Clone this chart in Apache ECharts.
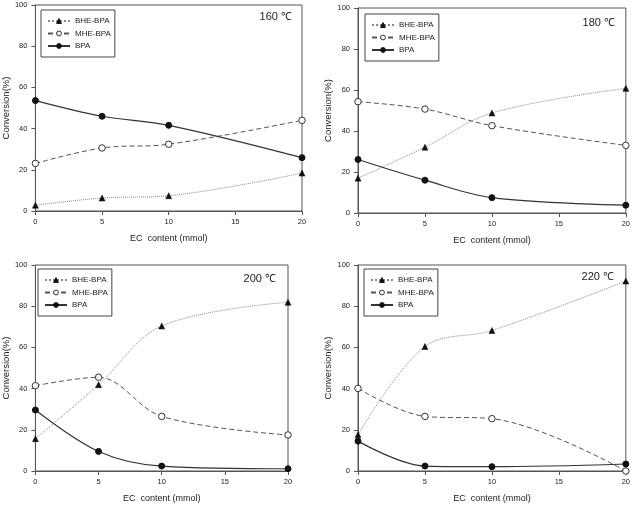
<!DOCTYPE html>
<html>
<head>
<meta charset="utf-8">
<script src="https://cdn.jsdelivr.net/npm/echarts@6/dist/echarts.min.js"></script>
<style>html,body{margin:0;padding:0;background:#fff}#c{width:633px;height:505px}</style>
</head>
<body>
<div id="c"></div>
<script>
const xVals = [0, 5, 10, 20];
const seriesNames = ['BHE-BPA', 'MHE-BPA', 'BPA'];
const panelLabels = ['160 ℃', '180 ℃', '200 ℃', '220 ℃'];
const xTitle = 'EC  content (mmol)';
const yTitle = 'Conversion(%)';

const bhe160 = [2.8, 6.3, 7.4, 18.4];
const mhe160 = [23.1, 30.6, 32.4, 44.0];
const bpa160 = [53.6, 46.0, 41.6, 25.9];

const bhe180 = [17.0, 32.1, 48.8, 60.8];
const mhe180 = [54.3, 50.7, 42.6, 33.0];
const bpa180 = [26.1, 16.0, 7.5, 3.8];

const bhe200 = [15.7, 41.9, 70.4, 81.9];
const mhe200 = [41.4, 45.5, 26.5, 17.5];
const bpa200 = [29.6, 9.5, 2.4, 1.1];

const bhe220 = [17.6, 60.4, 68.2, 92.2];
const mhe220 = [40.1, 26.5, 25.4, 0];
const bpa220 = [14.5, 2.4, 2.1, 3.4];

const panelData = [
  [bhe160, mhe160, bpa160],
  [bhe180, mhe180, bpa180],
  [bhe200, mhe200, bpa200],
  [bhe220, mhe220, bpa220]
];

// layout
const grids = [
  {left: 35, top: 5, width: 267, height: 206},
  {left: 358, top: 8, width: 268, height: 205},
  {left: 34, top: 265, width: 254, height: 206},
  {left: 358, top: 265, width: 269, height: 206}
];
const legendPos = [
  {left: 41, top: 10},
  {left: 365, top: 14},
  {left: 38, top: 269},
  {left: 364, top: 269}
];
const labelPos = [
  {right: 633 - 292, top: 11},
  {right: 633 - 615, top: 17},
  {right: 633 - 276, top: 273},
  {right: 633 - 614, top: 271}
];

const FONT = 'Liberation Sans, Arial, sans-serif';
const styles = [
  {symbol: 'triangle', symbolSize: 6, itemStyle: {color: '#111', borderColor: '#111', borderWidth: 0.5},
   lineStyle: {type: 'dotted', width: 1, color: '#8a8a8a'}},
  {symbol: 'circle', symbolSize: 6.5, itemStyle: {color: '#fff', borderColor: '#333', borderWidth: 1},
   lineStyle: {type: [5, 3], width: 1, color: '#555'}},
  {symbol: 'circle', symbolSize: 6, itemStyle: {color: '#111', borderColor: '#111', borderWidth: 1},
   lineStyle: {type: 'solid', width: 1.2, color: '#333'}}
];

const option = {
  animation: false,
  backgroundColor: '#fff',
  grid: grids.map(g => Object.assign({show: true, borderColor: '#555', borderWidth: 1, containLabel: false}, g)),
  xAxis: grids.map((g, i) => ({
    type: 'value', gridIndex: i, min: 0, max: 20, interval: 5,
    name: xTitle, nameLocation: 'middle', nameGap: 23,
    nameTextStyle: {fontFamily: FONT, fontSize: 9, color: '#222'},
    axisLine: {lineStyle: {color: '#555'}},
    axisTick: {show: true, length: 4, lineStyle: {color: '#555'}},
    axisLabel: {fontFamily: FONT, fontSize: 7.5, color: '#222', margin: 7},
    splitLine: {show: false}
  })),
  yAxis: grids.map((g, i) => ({
    type: 'value', gridIndex: i, min: 0, max: 100, interval: 20,
    name: yTitle, nameLocation: 'middle', nameGap: 24, nameRotate: 90,
    nameTextStyle: {fontFamily: FONT, fontSize: 9.5, color: '#222'},
    axisLine: {show: true, lineStyle: {color: '#555'}},
    axisTick: {show: true, length: 4, lineStyle: {color: '#555'}},
    axisLabel: {fontFamily: FONT, fontSize: 7.5, color: '#222', margin: 8},
    splitLine: {show: false}
  })),
  legend: legendPos.map((p, i) => Object.assign({
    orient: 'vertical', data: seriesNames,
    padding: [7, 4, 7, 6], itemGap: 4.5, itemWidth: 22, itemHeight: 6,
    borderColor: '#444', borderWidth: 1, backgroundColor: '#fff',
    selectedMode: false,
    itemStyle: {borderWidth: 1},
    textStyle: {fontFamily: FONT, fontSize: 8, color: '#222'}
  }, p)),
  title: labelPos.map((p, i) => Object.assign({
    text: panelLabels[i], padding: 0,
    textStyle: {fontFamily: FONT, fontSize: 11, fontWeight: 'normal', color: '#222'}
  }, p)),
  series: []
};

panelData.forEach((arrs, gi) => {
  arrs.forEach((vals, si) => {
    option.series.push(Object.assign({
      type: 'line', name: seriesNames[si],
      xAxisIndex: gi, yAxisIndex: gi,
      data: xVals.map((x, k) => [x, vals[k]]),
      smooth: 0.35, clip: false, z: 3 + si
    }, JSON.parse(JSON.stringify(styles[si]))));
  });
});

const chart = echarts.init(document.getElementById('c'), null, {renderer: 'canvas'});
chart.setOption(option);
</script>
</body>
</html>
